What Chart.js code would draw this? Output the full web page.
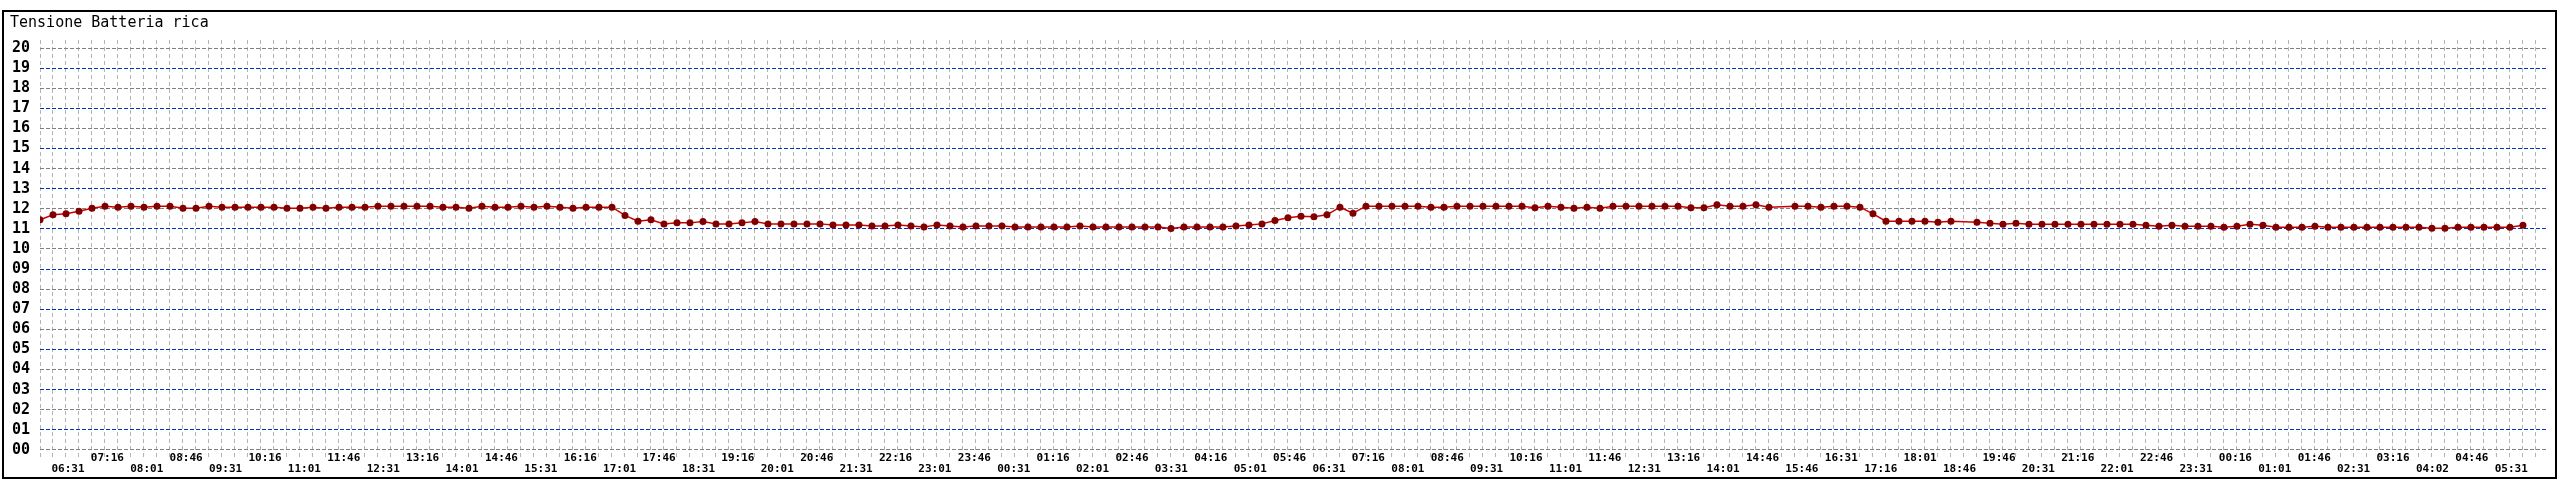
<!DOCTYPE html>
<html>
<head>
<meta charset="utf-8">
<title>Tensione Batteria rica</title>
<script src="https://cdn.jsdelivr.net/npm/chart.js@4/dist/chart.umd.min.js"></script>
<style>
  html, body { margin: 0; padding: 0; background: #fff; }
  canvas { display: block; }
</style>
</head>
<body>
<canvas id="chart" width="2560" height="480"></canvas>
<script>
// battery voltage, one reading per slot (null = missing reading)
const voltage = [
  11.45, 11.7, 11.75, 11.88, 12.03, 12.13, 12.08, 12.13, 12.08, 12.13, 12.13, 12.03,
  12.03, 12.13, 12.08, 12.08, 12.08, 12.08, 12.08, 12.03, 12.03, 12.08, 12.03, 12.08,
  12.08, 12.08, 12.13, 12.13, 12.13, 12.13, 12.13, 12.08, 12.08, 12.03, 12.13, 12.08,
  12.08, 12.13, 12.08, 12.13, 12.08, 12.03, 12.08, 12.08, 12.08, 11.67, 11.38, 11.45,
  11.25, 11.3, 11.3, 11.37, 11.25, 11.25, 11.3, 11.37, 11.25, 11.25, 11.25, 11.25,
  11.25, 11.2, 11.2, 11.2, 11.15, 11.15, 11.2, 11.15, 11.1, 11.2, 11.15, 11.1,
  11.15, 11.15, 11.15, 11.1, 11.1, 11.1, 11.1, 11.1, 11.15, 11.1, 11.1, 11.1,
  11.1, 11.1, 11.1, 11.02, 11.1, 11.1, 11.1, 11.1, 11.15, 11.2, 11.25, 11.42,
  11.55, 11.63, 11.6, 11.7, 12.08, 11.78, 12.13, 12.13, 12.13, 12.13, 12.13, 12.08,
  12.08, 12.13, 12.13, 12.13, 12.13, 12.13, 12.13, 12.05, 12.13, 12.08, 12.03, 12.08,
  12.03, 12.13, 12.13, 12.13, 12.13, 12.13, 12.13, 12.05, 12.05, 12.2, 12.13, 12.13,
  12.2, 12.08, null, 12.13, 12.13, 12.08, 12.13, 12.13, 12.08, 11.75, 11.38, 11.38,
  11.38, 11.38, 11.33, 11.38, null, 11.33, 11.28, 11.23, 11.28, 11.23, 11.23, 11.23,
  11.23, 11.23, 11.23, 11.23, 11.23, 11.23, 11.18, 11.13, 11.18, 11.13, 11.13, 11.13,
  11.08, 11.13, 11.23, 11.18, 11.08, 11.08, 11.08, 11.13, 11.08, 11.08, 11.08, 11.08,
  11.08, 11.08, 11.08, 11.08, 11.03, 11.03, 11.08, 11.08, 11.08, 11.08, 11.08, 11.18
];

// time labels shown under the axis (every third slot, two rows)
const timeLabels = [
  "06:31", "07:16", "08:01", "08:46", "09:31", "10:16", "11:01", "11:46",
  "12:31", "13:16", "14:01", "14:46", "15:31", "16:16", "17:01", "17:46",
  "18:31", "19:16", "20:01", "20:46", "21:31", "22:16", "23:01", "23:46",
  "00:31", "01:16", "02:01", "02:46", "03:31", "04:16", "05:01", "05:46",
  "06:31", "07:16", "08:01", "08:46", "09:31", "10:16", "11:01", "11:46",
  "12:31", "13:16", "14:01", "14:46", "15:46", "16:31", "17:16", "18:01",
  "18:46", "19:46", "20:31", "21:16", "22:01", "22:46", "23:31", "00:16",
  "01:01", "01:46", "02:31", "03:16", "04:02", "04:46", "05:31"
];

const yTicks = [0, 1, 2, 3, 4, 5, 6, 7, 8, 9, 10, 11, 12, 13, 14, 15, 16, 17, 18, 19, 20];

const X_MAX = 192.85;
const FIRST_LABEL_AT = 2.15;
const LAST_LABEL_AT = 190.1;

const points = voltage.map((v, i) => ({ x: i, y: v }));

const framePlugin = {
  id: "frame",
  beforeDraw(chart) {
    const ctx = chart.ctx;
    ctx.save();
    ctx.fillStyle = "#fff";
    ctx.fillRect(0, 0, chart.width, chart.height);
    ctx.strokeStyle = "#000";
    ctx.lineWidth = 2;
    ctx.strokeRect(3, 11, 2553, 467);
    ctx.restore();
  },
};

new Chart(document.getElementById("chart"), {
  type: "line",
  data: {
    datasets: [
      {
        data: points,
        xAxisID: "x",
        borderColor: "#cc0000",
        borderWidth: 1.5,
        pointRadius: 3.5,
        pointBorderWidth: 0,
        pointBackgroundColor: "#800000",
        spanGaps: true,
        tension: 0,
      },
    ],
  },
  options: {
    responsive: false,
    animation: false,
    events: [],
    layout: { padding: { left: 10, right: 13, top: 0, bottom: 0 } },
    plugins: {
      legend: { display: false },
      tooltip: { enabled: false },
      title: {
        display: true,
        text: "Tensione Batteria rica",
        align: "start",
        color: "#000",
        font: { family: "'DejaVu Sans Mono'", size: 15, weight: "normal", lineHeight: 1.2 },
        padding: { top: 14, bottom: 8 },
      },
    },
    scales: {
      x: {
        type: "linear",
        position: "bottom",
        min: 0,
        max: X_MAX,
        afterBuildTicks: (s) => {
          s.ticks = voltage.concat([null]).map((_, i) => ({ value: i }));
        },
        afterFit: (s) => { s.height = 0; },
        ticks: { display: false },
        grid: { color: "#b4b4b4", lineWidth: 1, drawTicks: false },
        border: { display: false, dash: [4, 3] },
      },
      x2: {
        type: "linear",
        position: "bottom",
        min: 0,
        max: X_MAX,
        afterBuildTicks: (s) => {
          const step = (LAST_LABEL_AT - FIRST_LABEL_AT) / (timeLabels.length - 1);
          s.ticks = timeLabels.map((_, k) => ({ value: FIRST_LABEL_AT + k * step }));
        },
        afterFit: (s) => { s.height = 20; },
        grid: { display: false, drawTicks: false },
        border: { display: false },
        ticks: {
          autoSkip: false,
          maxRotation: 0,
          mirror: true,
          padding: -3.5,
          color: "#000",
          font: { family: "'DejaVu Sans Mono'", size: 11, weight: "bold", lineHeight: 1 },
          callback: (value, index) => {
            const t = timeLabels[index];
            return index % 2 === 0 ? ["", t] : [t, ""];
          },
        },
      },
      y: {
        type: "linear",
        min: -0.5,
        max: 20.4,
        afterBuildTicks: (s) => {
          s.ticks = yTicks.map((v) => ({ value: v }));
        },
        afterFit: (s) => { s.width = 30; },
        grid: {
          drawTicks: false,
          lineWidth: 1,
          color: (c) => (c.tick && c.tick.value % 2 === 1 ? "#0030c0" : "#808080"),
        },
        border: { display: false, dash: [4, 2] },
        ticks: {
          autoSkip: false,
          padding: 10,
          color: "#000",
          font: { family: "'DejaVu Sans Mono'", size: 15, weight: "bold" },
          callback: (value) => String(value).padStart(2, "0"),
        },
      },
    },
  },
  plugins: [framePlugin],
});
</script>
</body>
</html>
